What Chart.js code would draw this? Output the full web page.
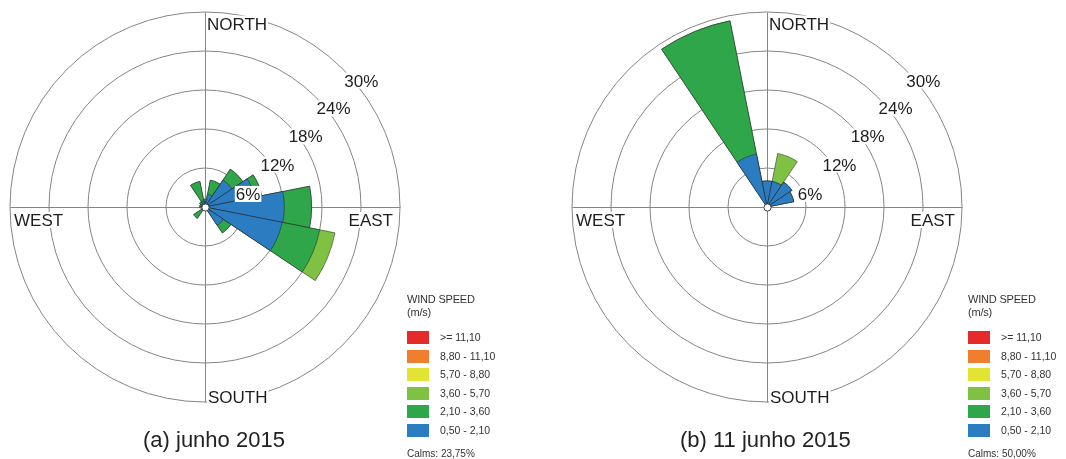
<!DOCTYPE html>
<html>
<head>
<meta charset="utf-8">
<script src="https://cdn.jsdelivr.net/npm/chart.js@4.4.1/dist/chart.umd.min.js"></script>
<style>
  html, body { margin: 0; padding: 0; background: #fff; }
  body { width: 1066px; height: 459px; position: relative; overflow: hidden;
         font-family: "Liberation Sans", Arial, sans-serif; color: #222; }
  canvas { position: absolute; top: 0; }
  #roseA { left: 0; }
  #roseB { left: 533px; }
  .title { position: absolute; font-size: 22px; line-height: 22px; white-space: nowrap; color: #222; }
  .lg { position: absolute; white-space: nowrap; color: #333; }
  .lg-head { font-size: 11px; line-height: 11px; letter-spacing: -0.2px; }
  .lg-box { width: 22px; height: 13px; }
  .lg-txt { font-size: 10.5px; line-height: 13px; }
  .lg-calm { font-size: 10px; line-height: 10px; }
</style>
</head>
<body>
<canvas id="roseA" width="533" height="459"></canvas>
<canvas id="roseB" width="533" height="459"></canvas>
<div id="overlay"></div>
<script>
// 16 compass sectors, clockwise from north
const directions = ['N', 'NNE', 'NE', 'ENE', 'E', 'ESE', 'SE', 'SSE',
                    'S', 'SSW', 'SW', 'WSW', 'W', 'WNW', 'NW', 'NNW'];
const compassLabels = ['NORTH', 'EAST', 'SOUTH', 'WEST'];
const ringTicks = [6, 12, 18, 24, 30];

// Wind speed classes (m/s), strongest first, as listed in the legend
const speedClasses = ['>= 11,10', '8,80 - 11,10', '5,70 - 8,80', '3,60 - 5,70', '2,10 - 3,60', '0,50 - 2,10'];
const speedColors  = ['#e42a2a', '#f07e2e', '#e2e332', '#7fc143', '#2fa64a', '#2b7cc0'];

// (a) junho 2015 - frequency (%) per direction, by speed class
const junhoSlow   = [0.8, 2.0, 5.0, 7.8, 12.2, 12.1, 3.4, 0.5, 0.3, 0.3, 0.5, 0.4, 0.3, 0.3, 0.6, 1.0]; // 0,50 - 2,10
const junhoMid    = [0.4, 2.2, 2.0, 1.1, 4.2, 5.9, 1.4, 0.1, 0.0, 0.2, 1.6, 0.1, 0.5, 0.5, 0.4, 3.0]; // 2,10 - 3,60
const junhoFast   = [0, 0, 0, 0, 0, 2.4, 0, 0, 0, 0, 0, 0, 0, 0, 0, 0];                                  // 3,60 - 5,70
const junhoCalms  = '23,75%';

// (b) 11 junho 2015
const dia11Slow   = [4.0, 4.0, 4.6, 4.2, 0, 0, 0, 0, 0, 0, 0, 0, 0, 0, 0, 8.3];
const dia11Mid    = [0, 0, 0, 0, 0, 0, 0, 0, 0, 0, 0, 0, 0, 0, 0, 20.9];
const dia11Fast   = [0, 4.4, 0, 0, 0, 0, 0, 0, 0, 0, 0, 0, 0, 0, 0, 0];
const dia11Calms  = '50,00%';

const GRID = '#858585';
const FONT = '"Liberation Sans", Arial, sans-serif';

// running totals so each class sits on top of the slower ones
function stack(...layers) {
  const out = [];
  let run = directions.map(() => 0);
  layers.forEach(l => { run = run.map((v, i) => v + l[i]); out.push(run.slice()); });
  return out;
}

function labelBox(ctx, text, x, y, align) {
  const w = ctx.measureText(text).width;
  const left = align === 'right' ? x - w : (align === 'center' ? x - w / 2 : x);
  ctx.fillStyle = '#fff';
  ctx.fillRect(left - 1, y - 14, w + 2, 16);
  ctx.fillStyle = '#1e1e1e';
  ctx.textAlign = 'left';
  ctx.fillText(text, left, y);
}

const roseDecor = {
  id: 'roseDecor',
  beforeDatasetsDraw(chart) {
    const s = chart.scales.r, ctx = chart.ctx;
    const cx = s.xCenter + 0.5, cy = s.yCenter + 0.5, R = s.drawingArea;
    ctx.save();
    ctx.strokeStyle = GRID;
    ctx.lineWidth = 1;
    ctx.beginPath();
    ctx.moveTo(cx, cy - R); ctx.lineTo(cx, cy + R);
    ctx.moveTo(cx - R, cy); ctx.lineTo(cx + R, cy);
    ctx.stroke();
    ctx.restore();
  },
  afterDatasetsDraw(chart) {
    const s = chart.scales.r, ctx = chart.ctx;
    const cx = s.xCenter, cy = s.yCenter, R = s.drawingArea;
    const k = R / 195;
    ctx.save();
    // calms circle
    ctx.beginPath();
    ctx.arc(cx + 0.5, cy + 0.5, 3.6, 0, Math.PI * 2);
    ctx.fillStyle = '#fff';
    ctx.fill();
    ctx.strokeStyle = '#444';
    ctx.lineWidth = 1;
    ctx.stroke();

    ctx.font = '17px ' + FONT;
    ctx.textBaseline = 'alphabetic';
    // ring percentages, stepped along a diagonal just outside each ring
    ringTicks.forEach(v => {
      const D = s.getDistanceFromCenterForValue(v) + 6 * k;
      const off = 30 * k;
      const dx = (off + Math.sqrt(2 * D * D - off * off)) / 2;
      const up = dx - off;
      labelBox(ctx, v + '%', cx + dx, cy - up + 6, 'center');
    });
    // compass names
    labelBox(ctx, compassLabels[0], cx + 2, cy - R + 17.5, 'left');
    labelBox(ctx, compassLabels[2], cx + 3, cy + R + 0.5, 'left');
    labelBox(ctx, compassLabels[3], cx - R + 4, cy + 19, 'left');
    labelBox(ctx, compassLabels[1], cx + R - 7, cy + 19, 'right');
    ctx.restore();
  }
};

function makeRose(id, layers, pad) {
  const cum = stack(...layers);
  const colors = [speedColors[5], speedColors[4], speedColors[3]];
  const datasets = cum.map((vals, i) => ({
    data: vals,
    backgroundColor: colors[i],
    borderColor: 'rgba(35,35,35,0.75)',
    borderWidth: 0.7
  }));
  return new Chart(document.getElementById(id), {
    type: 'polarArea',
    data: { labels: directions, datasets },
    options: {
      responsive: false,
      animation: false,
      layout: { padding: pad },
      plugins: { legend: { display: false }, tooltip: { enabled: false } },
      scales: {
        r: {
          min: 0, max: 30,
          startAngle: -11.25,
          ticks: { display: false, stepSize: 6 },
          grid: { circular: true, color: GRID, lineWidth: 1 },
          angleLines: { display: false },
          pointLabels: { display: false }
        }
      }
    },
    plugins: [roseDecor]
  });
}

makeRose('roseA', [junhoSlow, junhoMid, junhoFast], { left: 10, top: 12, right: 133, bottom: 56 });
makeRose('roseB', [dia11Slow, dia11Mid, dia11Fast], { left: 39, top: 12, right: 104, bottom: 56 });

// titles and speed legends
const overlay = document.getElementById('overlay');
function add(cls, text, x, y, style) {
  const d = document.createElement('div');
  d.className = cls;
  d.textContent = text;
  d.style.left = x + 'px';
  d.style.top = y + 'px';
  if (style) Object.assign(d.style, style);
  overlay.appendChild(d);
  return d;
}
add('title', '(a) junho 2015', 143, 429);
add('title', '(b) 11 junho 2015', 680, 429);

function legend(x, calms) {
  add('lg lg-head', 'WIND SPEED', x, 293.5);
  add('lg lg-head', '(m/s)', x, 307);
  speedClasses.forEach((lab, i) => {
    const y = 331 + 18.5 * i;
    add('lg lg-box', '', x, y, { background: speedColors[i] });
    add('lg lg-txt', lab, x + 33, y);
  });
  add('lg lg-calm', 'Calms: ' + calms, x, 448.5);
}
legend(407, junhoCalms);
legend(968, dia11Calms);
</script>
</body>
</html>
